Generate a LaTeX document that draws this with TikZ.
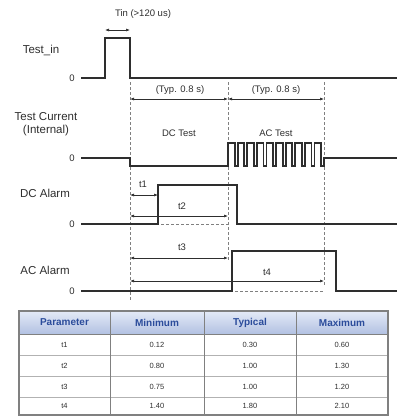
\documentclass[tikz,border=0pt]{standalone}
\usepackage{fontspec}
\setmainfont{Liberation Sans}
\usetikzlibrary{arrows.meta}
\definecolor{sig}{HTML}{2E2E2E}
\definecolor{hdrtxt}{HTML}{2B4C9B}
\definecolor{hdrtop}{HTML}{E4EAF7}
\definecolor{hdrbot}{HTML}{B2C1E2}
\tikzset{
  signal/.style={line width=1.8pt, sig, line join=miter},
  guide/.style={densely dashed, gray, line width=0.5pt},
  dim/.style={{Latex[length=4pt,width=3pt]}-{Latex[length=4pt,width=3pt]}, line width=0.6pt, sig},
  lbl/.style={font=\fontsize{11.5}{13.5}\selectfont, text=sig, align=center},
  note/.style={font=\fontsize{9.5}{11}\selectfont, text=sig},
  hdr/.style={font=\fontsize{10}{11}\selectfont\bfseries, text=hdrtxt},
  cell/.style={font=\fontsize{7.5}{8.5}\selectfont, text=sig},
}
\begin{document}
\begin{tikzpicture}[x=1pt,y=-1pt]
  \useasboundingbox (0,0) rectangle (397,416);
  % signal names and zero levels
  \node[lbl] (nin) at (41,50) {Test\_in};
  \node[lbl] (ncur) at (46,124) {Test Current\\(Internal)};
  \node[lbl] (ndc) at (45,193) {DC Alarm};
  \node[lbl] (nac) at (45,270) {AC Alarm};
  \foreach \y [count=\k] in {78,158,224,291}
    \node[note] (z\k) at (72,\y) {0};
  % guide lines
  \draw[guide] (130,82) -- (130,300);
  \draw[guide] (228,82) -- (228,260);
  \draw[guide] (324,82) -- (324,286);
  \draw[guide] (161,224) -- (228,224);
  \draw[guide] (235,291) -- (324,291);
  % waveforms
  \draw[signal] (81,78) -- (105,78) -- (105,38) -- (130,38) -- (130,78) -- (397,78);
  \draw[signal] (81,158) -- (130,158) -- (130,166) -- (228,166)
    \foreach \i in {0,...,9} { -- ++(0,-23) -- ++(6.6,0) -- ++(0,23) -- ++(3,0) }
    -- ++(0,-8) -- (397,158);
  \draw[signal] (81,224) -- (158,224) -- (158,185) -- (237,185) -- (237,224) -- (397,224);
  \draw[signal] (81,291) -- (232,291) -- (232,251) -- (336,251) -- (336,291) -- (397,291);
  % dimension marks
  \coordinate (tinA) at (105,30);  \coordinate (tinB) at (130,30);
  \coordinate (dcA) at (130,99);   \coordinate (dcB) at (228,99);
  \coordinate (acB) at (324,99);
  \coordinate (t1A) at (130,195);  \coordinate (t1B) at (158,195);
  \coordinate (t2A) at (130,216);  \coordinate (t2B) at (228,216);
  \coordinate (t3A) at (130,258);  \coordinate (t3B) at (228,258);
  \coordinate (t4A) at (130,281);  \coordinate (t4B) at (324,281);
  \draw[dim] (tinA) -- (tinB);
  \draw[dim] (dcA) -- (dcB);
  \draw[dim] (dcB) -- (acB);
  \draw[dim] (t1A) -- (t1B);
  \draw[dim] (t2A) -- (t2B);
  \draw[dim] (t3A) -- (t3B);
  \draw[dim] (t4A) -- (t4B);
  \node[note] (ltin) at (143,14) {Tin (>120 us)};
  \node[note] (ltypdc) at (180,90) {(Typ. 0.8 s)};
  \node[note] (ltypac) at (276,90) {(Typ. 0.8 s)};
  \node[note] (ldc) at (179,133) {DC Test};
  \node[note] (lac) at (276,133) {AC Test};
  \node[note] (lt1) at (143,184) {t1};
  \node[note] (lt2) at (182,206) {t2};
  \node[note] (lt3) at (182,247) {t3};
  \node[note] (lt4) at (267,272) {t4};
  % parameter table
  \shade[top color=hdrtop, bottom color=hdrbot] (19,311) rectangle (388,334);
  \foreach \y in {355,376,397}
    \draw[gray!60, line width=0.6pt] (19,\y) -- (388,\y);
  \draw[gray, line width=1pt] (19,334) -- (388,334);
  \foreach \x in {110,204,296}
    \draw[gray, line width=1pt] (\x,311) -- (\x,415);
  \draw[gray, line width=1.2pt] (19,311) rectangle (388,415);
  \foreach \name/\x [count=\j] in {Parameter/64.5,Minimum/157,Typical/250,Maximum/342}
    \node[hdr] (h\j) at (\x,322.5) {\name};
  \foreach \p/\a/\b/\c/\y [count=\i] in {t1/0.12/0.30/0.60/344.5,t2/0.80/1.00/1.30/365.5,
      t3/0.75/1.00/1.20/386.5,t4/1.40/1.80/2.10/406}
  {
    \node[cell] (p\i) at (64.5,\y) {\p};
    \node[cell] (mn\i) at (157,\y) {\a};
    \node[cell] (ty\i) at (250,\y) {\b};
    \node[cell] (mx\i) at (342,\y) {\c};
  }
\end{tikzpicture}
\end{document}
